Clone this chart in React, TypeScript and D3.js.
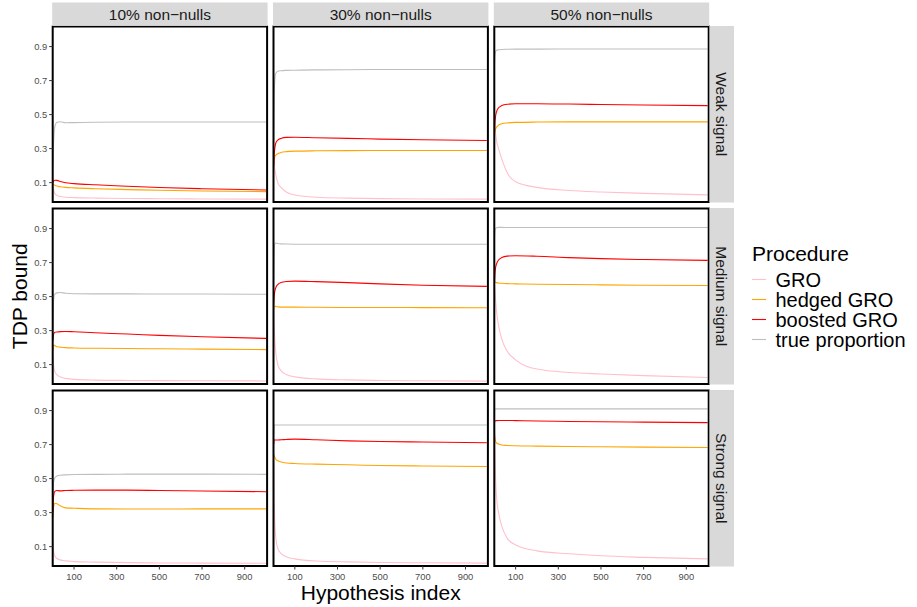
import React from 'react';
import * as d3 from 'd3';

// Hypothesis indices at which the curves were read
const IDX = [1, 3, 6, 10, 20, 35, 60, 100, 200, 350, 500, 700, 1000];

const COL_LABELS = ['10% non\u2212nulls', '30% non\u2212nulls', '50% non\u2212nulls'];
const ROW_LABELS = ['Weak signal', 'Medium signal', 'Strong signal'];
const PROCEDURES = ['GRO', 'hedged GRO', 'boosted GRO', 'true proportion'];
const COLORS = ['#FFC0CB', '#FFA500', '#FF0000', '#BEBEBE'];
const Y_TICKS = [0.1, 0.3, 0.5, 0.7, 0.9];
const X_TICKS = [100, 300, 500, 700, 900];

// Weak signal
const W10_GRO = [0.09, 0.07, 0.05, 0.035, 0.025, 0.018, 0.014, 0.012, 0.009, 0.007, 0.005, 0.004, 0.003];
const W10_HEDGED = [0.09, 0.09, 0.088, 0.085, 0.08, 0.076, 0.072, 0.069, 0.064, 0.059, 0.055, 0.051, 0.047];
const W10_BOOSTED = [0.1, 0.108, 0.112, 0.114, 0.113, 0.106, 0.099, 0.094, 0.087, 0.079, 0.071, 0.064, 0.057];
const W10_TRUE = [0.2, 0.3, 0.38, 0.43, 0.455, 0.458, 0.452, 0.453, 0.455, 0.456, 0.456, 0.456, 0.456];

const W30_GRO = [0.22, 0.2, 0.18, 0.15, 0.1, 0.072, 0.045, 0.027, 0.014, 0.009, 0.006, 0.004, 0.003];
const W30_HEDGED = [0.2, 0.23, 0.25, 0.26, 0.27, 0.277, 0.282, 0.285, 0.287, 0.288, 0.289, 0.289, 0.289];
const W30_BOOSTED = [0.2, 0.26, 0.3, 0.33, 0.35, 0.36, 0.366, 0.367, 0.364, 0.36, 0.356, 0.352, 0.348];
const W30_TRUE = [0.35, 0.6, 0.7, 0.74, 0.755, 0.758, 0.76, 0.761, 0.763, 0.764, 0.765, 0.765, 0.765];

const W50_GRO = [0.45, 0.42, 0.39, 0.35, 0.3, 0.24, 0.16, 0.105, 0.072, 0.054, 0.045, 0.037, 0.028];
const W50_HEDGED = [0.38, 0.4, 0.415, 0.425, 0.438, 0.446, 0.451, 0.454, 0.456, 0.457, 0.457, 0.457, 0.457];
const W50_BOOSTED = [0.4, 0.45, 0.49, 0.515, 0.54, 0.553, 0.561, 0.564, 0.564, 0.562, 0.559, 0.556, 0.553];
const W50_TRUE = [0.8, 0.85, 0.87, 0.877, 0.881, 0.883, 0.884, 0.885, 0.885, 0.886, 0.886, 0.886, 0.886];

// Medium signal
const M10_GRO = [0.15, 0.11, 0.08, 0.06, 0.04, 0.028, 0.019, 0.013, 0.009, 0.007, 0.006, 0.005, 0.004];
const M10_HEDGED = [0.18, 0.21, 0.215, 0.212, 0.205, 0.203, 0.2, 0.198, 0.196, 0.195, 0.193, 0.191, 0.188];
const M10_BOOSTED = [0.24, 0.27, 0.285, 0.29, 0.292, 0.294, 0.295, 0.293, 0.287, 0.28, 0.272, 0.264, 0.254];
const M10_TRUE = [0.3, 0.45, 0.5, 0.515, 0.522, 0.524, 0.52, 0.517, 0.516, 0.516, 0.515, 0.515, 0.514];

const M30_GRO = [0.45, 0.35, 0.25, 0.18, 0.1, 0.065, 0.042, 0.028, 0.016, 0.01, 0.007, 0.005, 0.003];
const M30_HEDGED = [0.42, 0.44, 0.445, 0.442, 0.44, 0.438, 0.438, 0.438, 0.437, 0.436, 0.436, 0.435, 0.434];
const M30_BOOSTED = [0.45, 0.5, 0.53, 0.55, 0.57, 0.583, 0.589, 0.591, 0.588, 0.582, 0.575, 0.567, 0.56];
const M30_TRUE = [0.6, 0.78, 0.81, 0.815, 0.812, 0.81, 0.809, 0.808, 0.808, 0.808, 0.808, 0.808, 0.808];

const M50_GRO = [0.58, 0.54, 0.48, 0.42, 0.33, 0.25, 0.18, 0.128, 0.074, 0.054, 0.045, 0.035, 0.024];
const M50_HEDGED = [0.58, 0.585, 0.584, 0.582, 0.58, 0.578, 0.576, 0.575, 0.573, 0.571, 0.569, 0.567, 0.565];
const M50_BOOSTED = [0.58, 0.63, 0.67, 0.69, 0.715, 0.73, 0.738, 0.74, 0.737, 0.729, 0.723, 0.718, 0.713];
const M50_TRUE = [0.85, 0.89, 0.9, 0.905, 0.907, 0.907, 0.906, 0.906, 0.906, 0.906, 0.906, 0.906, 0.906];

// Strong signal
const S10_GRO = [0.13, 0.09, 0.06, 0.045, 0.03, 0.022, 0.016, 0.012, 0.009, 0.006, 0.004, 0.003, 0.002];
const S10_HEDGED = [0.27, 0.32, 0.345, 0.355, 0.352, 0.34, 0.328, 0.326, 0.322, 0.321, 0.321, 0.322, 0.322];
const S10_BOOSTED = [0.3, 0.38, 0.41, 0.425, 0.43, 0.428, 0.43, 0.431, 0.432, 0.432, 0.43, 0.427, 0.423];
const S10_TRUE = [0.42, 0.47, 0.49, 0.505, 0.515, 0.52, 0.522, 0.524, 0.525, 0.526, 0.526, 0.526, 0.525];

const S30_GRO = [0.6, 0.4, 0.25, 0.16, 0.09, 0.06, 0.04, 0.028, 0.015, 0.01, 0.007, 0.005, 0.003];
const S30_HEDGED = [0.64, 0.635, 0.625, 0.615, 0.605, 0.598, 0.592, 0.589, 0.585, 0.581, 0.577, 0.574, 0.571];
const S30_BOOSTED = [0.7, 0.725, 0.728, 0.727, 0.727, 0.728, 0.73, 0.732, 0.728, 0.722, 0.718, 0.715, 0.711];
const S30_TRUE = [0.75, 0.81, 0.815, 0.815, 0.815, 0.815, 0.815, 0.815, 0.815, 0.815, 0.815, 0.815, 0.815];

const S50_GRO = [0.8, 0.65, 0.5, 0.4, 0.3, 0.22, 0.15, 0.11, 0.075, 0.058, 0.046, 0.037, 0.028];
const S50_HEDGED = [0.762, 0.74, 0.72, 0.71, 0.703, 0.698, 0.695, 0.693, 0.691, 0.689, 0.687, 0.685, 0.683];
const S50_BOOSTED = [0.83, 0.838, 0.84, 0.841, 0.842, 0.842, 0.842, 0.841, 0.839, 0.836, 0.834, 0.832, 0.829];
const S50_TRUE = [0.9, 0.908, 0.909, 0.91, 0.91, 0.91, 0.91, 0.91, 0.91, 0.91, 0.91, 0.91, 0.91];

const GRID: number[][][][] = [
  [
    [W10_GRO, W10_HEDGED, W10_BOOSTED, W10_TRUE],
    [W30_GRO, W30_HEDGED, W30_BOOSTED, W30_TRUE],
    [W50_GRO, W50_HEDGED, W50_BOOSTED, W50_TRUE],
  ],
  [
    [M10_GRO, M10_HEDGED, M10_BOOSTED, M10_TRUE],
    [M30_GRO, M30_HEDGED, M30_BOOSTED, M30_TRUE],
    [M50_GRO, M50_HEDGED, M50_BOOSTED, M50_TRUE],
  ],
  [
    [S10_GRO, S10_HEDGED, S10_BOOSTED, S10_TRUE],
    [S30_GRO, S30_HEDGED, S30_BOOSTED, S30_TRUE],
    [S50_GRO, S50_HEDGED, S50_BOOSTED, S50_TRUE],
  ],
];

const FONT = '"Liberation Sans", Arial, Helvetica, sans-serif';
const W = 917;
const H = 607;
const PANEL_X0 = 52.7;
const PANEL_W = 214.4;
const PANEL_DX = 220.8;
const PANEL_Y0 = 26.5;
const PANEL_H = 175.5;
const PANEL_DY = 182;
const STRIP_H = 24;
const STRIP_W = 24.5;
const TITLE_SIZE = 21;
const LEGEND_SIZE = 20;

export default function App() {
  const xScale = d3.scaleLinear().domain([0, 1005]).range([0, PANEL_W]);
  const yScale = d3.scaleLinear().domain([-0.014, 1.018]).range([PANEL_H, 0]);
  const line = d3
    .line<number>()
    .x((_, i) => xScale(IDX[i]))
    .y((d) => yScale(d))
    .curve(d3.curveMonotoneX);

  const panels: React.ReactNode[] = [];
  for (let r = 0; r < 3; r++) {
    for (let c = 0; c < 3; c++) {
      const px = PANEL_X0 + c * PANEL_DX;
      const py = PANEL_Y0 + r * PANEL_DY;
      const id = `clip-${r}-${c}`;
      panels.push(
        <g key={id} transform={`translate(${px},${py})`}>
          <defs>
            <clipPath id={id}>
              <rect x={0} y={0} width={PANEL_W} height={PANEL_H} />
            </clipPath>
          </defs>
          <rect x={0} y={0} width={PANEL_W} height={PANEL_H} fill="#fff" />
          <g clipPath={`url(#${id})`}>
            {GRID[r][c].map((s, k) => (
              <path key={k} d={line(s) || ''} fill="none" stroke={COLORS[k]} strokeWidth={1.1} />
            ))}
          </g>
          <rect x={0} y={0} width={PANEL_W} height={PANEL_H} fill="none" stroke="#000" strokeWidth={2} />
          {c === 0 &&
            Y_TICKS.map((t) => (
              <g key={t} transform={`translate(0,${yScale(t)})`}>
                <line x1={-3.5} x2={0} stroke="#333" strokeWidth={1} />
                <text x={-5.5} dy="0.35em" textAnchor="end" fontSize={9.4} fill="#4d4d4d" fontFamily={FONT}>
                  {t.toFixed(1)}
                </text>
              </g>
            ))}
          {r === 2 &&
            X_TICKS.map((t) => (
              <g key={t} transform={`translate(${xScale(t)},${PANEL_H})`}>
                <line y1={0} y2={3.5} stroke="#333" strokeWidth={1} />
                <text y={14} textAnchor="middle" fontSize={9.4} fill="#4d4d4d" fontFamily={FONT}>
                  {t}
                </text>
              </g>
            ))}
        </g>
      );
    }
  }

  const strips: React.ReactNode[] = [];
  for (let c = 0; c < 3; c++) {
    const px = PANEL_X0 + c * PANEL_DX;
    strips.push(
      <g key={`cs${c}`}>
        <rect x={px - 0.5} y={PANEL_Y0 - STRIP_H} width={PANEL_W + 1} height={STRIP_H - 0.6} fill="#d9d9d9" />
        <text
          x={px + PANEL_W / 2}
          y={PANEL_Y0 - STRIP_H / 2}
          dy="0.35em"
          textAnchor="middle"
          fontSize={15.5}
          fill="#1a1a1a"
          fontFamily={FONT}
        >
          {COL_LABELS[c]}
        </text>
      </g>
    );
  }
  for (let r = 0; r < 3; r++) {
    const py = PANEL_Y0 + r * PANEL_DY;
    const sx = PANEL_X0 + 2 * PANEL_DX + PANEL_W + 0.8;
    strips.push(
      <g key={`rs${r}`}>
        <rect x={sx} y={py - 0.5} width={STRIP_W} height={PANEL_H + 1} fill="#d9d9d9" />
        <text
          transform={`translate(${sx + STRIP_W / 2},${py + PANEL_H / 2}) rotate(90)`}
          dy="0.35em"
          textAnchor="middle"
          fontSize={15.5}
          fill="#1a1a1a"
          fontFamily={FONT}
        >
          {ROW_LABELS[r]}
        </text>
      </g>
    );
  }

  const legendX = 752;
  const legendY0 = 279.5;
  const legendDY = 20;

  return (
    <svg
      width={W}
      height={H}
      style={{ position: 'absolute', left: 0, top: 0, background: '#fff' }}
      fontFamily={FONT}
    >
      <rect x={0} y={0} width={W} height={H} fill="#fff" />
      {panels}
      {strips}
      <text
        transform={`translate(20,${PANEL_Y0 + (3 * PANEL_DY - (PANEL_DY - PANEL_H)) / 2}) rotate(-90)`}
        dy="0.35em"
        textAnchor="middle"
        fontSize={TITLE_SIZE}
        fill="#000"
      >
        TDP bound
      </text>
      <text
        x={PANEL_X0 + (3 * PANEL_DX - (PANEL_DX - PANEL_W)) / 2}
        y={599.5}
        textAnchor="middle"
        fontSize={TITLE_SIZE}
        fill="#000"
      >
        Hypothesis index
      </text>
      <text x={legendX} y={261} fontSize={TITLE_SIZE} fill="#000">
        Procedure
      </text>
      {PROCEDURES.map((p, k) => (
        <g key={p} transform={`translate(${legendX},${legendY0 + k * legendDY})`}>
          <line x1={0} x2={14} stroke={COLORS[k]} strokeWidth={1.1} />
          <text x={23.5} dy="0.35em" fontSize={LEGEND_SIZE} fill="#000">
            {p}
          </text>
        </g>
      ))}
    </svg>
  );
}
